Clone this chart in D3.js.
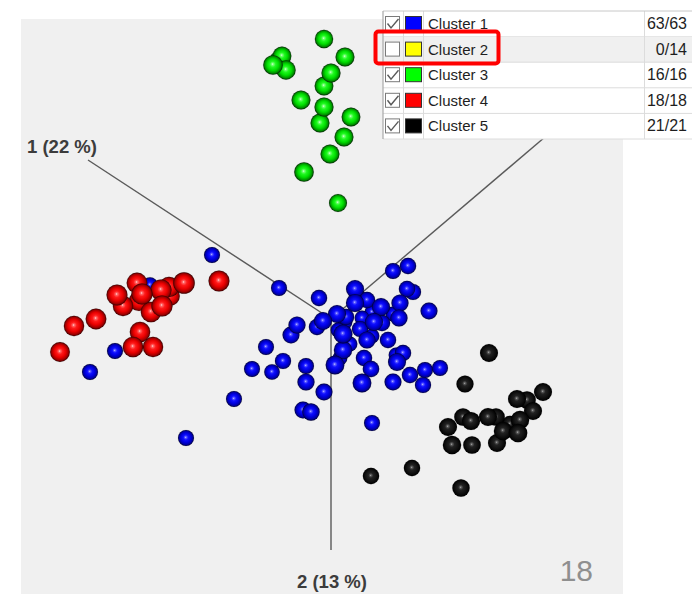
<!DOCTYPE html>
<html>
<head>
<meta charset="utf-8">
<script src="https://cdn.jsdelivr.net/npm/d3@7"></script>
<style>
  html, body { margin: 0; padding: 0; background: #ffffff; }
  svg { display: block; }
</style>
</head>
<body>
<svg id="chart" width="692" height="594"></svg>
<script>
// Cluster membership and counts
const clusterNames = ["Cluster 1", "Cluster 2", "Cluster 3", "Cluster 4", "Cluster 5"];
const shownCounts = [63, 0, 16, 18, 21];
const totalCounts = [63, 14, 16, 18, 21];
const clusterVisible = [true, false, true, true, true];

// Axis titles (component, explained variance %)
const axisTitles = ["1 (22 %)", "2 (13 %)"];
const axisVariance = [22, 13];
const frameNumber = "18";

// Projected scores: [x, y, depth]
const cluster1Points = [
  [-1.19, 0.64, 0.25], [-1.81, 0.34, 0.20], [-2.16, -0.32, 0.25], [-2.41, -0.53, 0.25],
  [-1.45, -1.19, 0.25], [-0.52, 0.31, 0.25], [-0.12, 0.21, 0.30], [0.24, 0.30, 0.50],
  [0.36, 0.19, 0.30], [0.24, 0.16, 0.52], [0.50, 0.12, 0.50], [0.62, 0.48, 0.25],
  [0.77, 0.53, 0.30], [0.76, 0.30, 0.30], [0.82, 0.27, 0.28], [0.69, 0.16, 0.40],
  [0.98, 0.08, 0.38], [0.68, 0.01, 0.40], [0.06, 0.05, 0.50], [0.15, 0.02, 0.30],
  [-0.08, -0.02, 0.50], [-0.14, -0.08, 0.30], [-0.34, -0.06, 0.40], [-0.40, -0.16, 0.38],
  [0.12, -0.15, 0.62], [0.29, -0.10, 0.28], [0.43, -0.03, 0.50], [0.51, -0.04, 0.30],
  [0.36, -0.21, 0.40], [0.57, -0.21, 0.30], [0.12, -0.31, 0.55], [0.04, -0.46, 0.60],
  [0.33, -0.39, 0.30], [0.40, -0.50, 0.32], [0.66, -0.43, 0.50], [0.72, -0.34, 0.30],
  [-0.25, -0.47, 0.25], [-0.48, -0.42, 0.28], [-0.65, -0.28, 0.25], [-0.79, -0.50, 0.25],
  [-0.59, -0.53, 0.20], [-0.25, -0.63, 0.40], [-0.07, -0.73, 0.38], [0.31, -0.64, 0.60],
  [0.62, -0.63, 0.38], [0.79, -0.56, 0.30], [0.94, -0.51, 0.25], [1.09, -0.49, 0.25],
  [0.92, -0.66, 0.28], [-0.97, -0.80, 0.25], [-0.28, -0.91, 0.38], [-0.20, -0.93, 0.42],
  [0.41, -1.04, 0.25],
  [0.27, 0.23, 0.10], [0.14, -0.03, 0.10], [0.41, -0.17, 0.10], [0.19, -0.25, 0.10],
  [0.65, -0.36, 0.10], [0.41, 0.07, 0.10], [0.07, -0.11, 0.10], [0.31, 0.01, 0.10],
  [0.62, 0.05, 0.10], [0.09, -0.39, 0.10]
];
const cluster2Points = [];
const cluster3Points = [
  [-0.07, 2.80, 0.55], [-0.49, 2.63, 0.60], [-0.58, 2.54, 0.70], [-0.45, 2.49, 0.68],
  [0.14, 2.62, 0.62], [0.00, 2.46, 0.64], [-0.07, 2.33, 0.60], [-0.30, 2.19, 0.62],
  [-0.07, 2.12, 0.64], [-0.11, 1.96, 0.62], [0.20, 2.02, 0.60], [0.13, 1.82, 0.62],
  [-0.01, 1.65, 0.62], [-0.27, 1.47, 0.70], [0.07, 1.16, 0.50], [-0.53, 2.59, 0.40]
];
const cluster4Points = [
  [-1.12, 0.38, 0.88], [-1.47, 0.36, 0.95], [-1.62, 0.32, 0.80], [-1.70, 0.29, 0.90],
  [-1.94, 0.36, 0.85], [-2.14, 0.24, 0.88], [-2.08, 0.13, 0.80], [-1.89, 0.25, 0.90],
  [-1.92, 0.18, 0.78], [-1.69, 0.13, 0.90], [-1.80, 0.07, 0.82], [-2.35, 0.00, 0.85],
  [-2.57, -0.07, 0.80], [-1.91, -0.13, 0.82], [-1.98, -0.28, 0.82], [-1.78, -0.28, 0.80],
  [-2.71, -0.33, 0.72], [-1.61, 0.23, 0.70]
];
const cluster5Points = [
  [1.58, -0.34, 0.50], [1.34, -0.65, 0.40], [2.12, -0.73, 0.50], [1.86, -0.80, 0.50],
  [1.96, -0.81, 0.45], [2.02, -0.92, 0.50], [1.32, -0.98, 0.45], [1.40, -1.02, 0.52],
  [1.57, -0.98, 0.50], [1.65, -0.98, 0.45], [1.89, -1.01, 0.55], [1.17, -1.08, 0.50],
  [1.72, -1.12, 0.55], [1.87, -1.14, 0.58], [1.21, -1.26, 0.55], [1.41, -1.26, 0.45],
  [1.66, -1.24, 0.50], [1.30, -1.69, 0.42], [0.40, -1.57, 0.30], [0.81, -1.49, 0.30],
  [1.79, -1.05, 0.30]
];
const clusterPoints = [cluster1Points, cluster2Points, cluster3Points, cluster4Points, cluster5Points];

// Axis directions in projected space (origin at 0,0)
const axisEnds = [[-2.43, 1.59], [0, -2.31], [2.14, 1.82]];

// Sphere shading palette per cluster: [highlight, light, base, mid, dark, rim]
const palette = [
  ["#e0e0ff", "#6a6aff", "#1010ff", "#0000e0", "#0000a0", "#00003c"],
  ["#ffffe0", "#ffff60", "#ffff00", "#e0e000", "#a0a000", "#3c3c00"],
  ["#f0fff0", "#80ff80", "#20f820", "#00dc00", "#009000", "#002c00"],
  ["#fff0f0", "#ff7070", "#ff1a1a", "#e80000", "#a00000", "#3c0000"],
  ["#c8c8c8", "#626262", "#222222", "#141414", "#070707", "#000000"]
];
const swatchColors = ["#0000ff", "#ffff00", "#00ff00", "#ff0000", "#000000"];

const svg = d3.select("#chart");

const x = d3.scaleLinear().domain([-3.1, 2.92]).range([21, 623]);
const y = d3.scaleLinear().domain([3.0, -2.75]).range([19, 594]);
const r = d3.scaleLinear().domain([0, 1]).range([7, 11]);

// Plot area background
svg.append("rect")
  .attr("x", x.range()[0]).attr("y", y.range()[0])
  .attr("width", x.range()[1] - x.range()[0])
  .attr("height", y.range()[1] - y.range()[0])
  .attr("fill", "#f0f0f0");

// Gradients for shaded spheres
const defs = svg.append("defs");
palette.forEach((p, i) => {
  const g = defs.append("radialGradient")
    .attr("id", "sphere" + i)
    .attr("cx", "50%").attr("cy", "50%").attr("r", "50%")
    .attr("fx", "48%").attr("fy", "45%");
  [[0, p[0]], [0.09, p[1]], [0.3, p[2]], [0.6, p[3]], [0.84, p[4]], [1, p[5]]]
    .forEach(([o, c]) => g.append("stop").attr("offset", o).attr("stop-color", c));
});

// Principal axes
const axes = svg.append("g");
axisEnds.forEach(e => {
  axes.append("line")
    .attr("x1", x(0)).attr("y1", y(0))
    .attr("x2", x(e[0])).attr("y2", y(e[1]))
    .attr("stroke", "#5a5a5a").attr("stroke-width", 1.4);
});

// Axis titles
svg.append("text")
  .attr("x", x(axisEnds[0][0]) - 26).attr("y", y(axisEnds[0][1]) - 7)
  .attr("text-anchor", "middle")
  .attr("font-family", "Liberation Sans, Arial, sans-serif")
  .attr("font-weight", "bold").attr("font-size", 18.5)
  .attr("fill", "#3c3c3c")
  .text(axisTitles[0]);
svg.append("text")
  .attr("x", x(axisEnds[1][0]) + 1).attr("y", y(axisEnds[1][1]) + 38)
  .attr("text-anchor", "middle")
  .attr("font-family", "Liberation Sans, Arial, sans-serif")
  .attr("font-weight", "bold").attr("font-size", 18.5)
  .attr("fill", "#3c3c3c")
  .text(axisTitles[1]);

// Spheres, back to front
const points = [];
clusterPoints.forEach((arr, ci) => {
  if (!clusterVisible[ci]) return;
  arr.forEach(p => points.push({ c: ci, x: p[0], y: p[1], z: p[2] }));
});
points.sort((a, b) => a.z - b.z);

svg.append("g").selectAll("circle")
  .data(points)
  .join("circle")
  .attr("cx", d => x(d.x))
  .attr("cy", d => y(d.y))
  .attr("r", d => r(d.z))
  .attr("fill", d => `url(#sphere${d.c})`)
  .attr("stroke", "rgba(0,0,0,0.18)")
  .attr("stroke-width", 0.5);

// Frame number
svg.append("text")
  .attr("x", 593).attr("y", 581)
  .attr("text-anchor", "end")
  .attr("font-family", "Liberation Sans, Arial, sans-serif")
  .attr("font-size", 30)
  .attr("fill", "#8f8f8f")
  .text(frameNumber);

// Cluster table
const lg = svg.append("g");
const tableTop = 11, rowH = 25.6, tableLeft = 383, tableRight = 692;
const colCheck = 403.5, colName = 423.5, colCount = 644.5;

lg.append("rect")
  .attr("x", tableLeft).attr("y", tableTop)
  .attr("width", tableRight - tableLeft).attr("height", rowH * clusterNames.length)
  .attr("fill", "#ffffff");

clusterNames.forEach((name, i) => {
  const ry = tableTop + i * rowH;
  const row = lg.append("g");
  if (i === 1) {
    row.append("rect").attr("x", tableLeft).attr("y", ry)
      .attr("width", tableRight - tableLeft).attr("height", rowH).attr("fill", "#f0f0f0");
  }
  // checkbox
  row.append("rect")
    .attr("x", 385.5).attr("y", ry + 5.5).attr("width", 14).attr("height", 14)
    .attr("fill", "#ffffff").attr("stroke", "#7a7a7a").attr("stroke-width", 1);
  if (clusterVisible[i]) {
    row.append("path")
      .attr("d", `M387.5,${ry + 12.5} L391,${ry + 17} L398.5,${ry + 8}`)
      .attr("fill", "none").attr("stroke", "#5a5a5a").attr("stroke-width", 1.4);
  }
  // colour swatch
  row.append("rect")
    .attr("x", 405.5).attr("y", ry + 5.5).attr("width", 16).attr("height", 14)
    .attr("fill", swatchColors[i]).attr("stroke", "#333333").attr("stroke-width", 1);
  row.append("text")
    .attr("x", 428).attr("y", ry + 18)
    .attr("font-family", "Liberation Sans, Arial, sans-serif")
    .attr("font-size", 15).attr("fill", "#1e1e1e")
    .text(name);
  row.append("text")
    .attr("x", 687).attr("y", ry + 18)
    .attr("text-anchor", "end")
    .attr("font-family", "Liberation Sans, Arial, sans-serif")
    .attr("font-size", 16).attr("fill", "#1e1e1e")
    .text(`${shownCounts[i]}/${totalCounts[i]}`);
  row.append("line")
    .attr("x1", tableLeft).attr("x2", tableRight)
    .attr("y1", ry + rowH).attr("y2", ry + rowH)
    .attr("stroke", "#dcdcdc").attr("stroke-width", 1);
});

[colCheck, colName, colCount].forEach(cx => {
  lg.append("line")
    .attr("x1", cx).attr("x2", cx)
    .attr("y1", tableTop).attr("y2", tableTop + rowH * clusterNames.length)
    .attr("stroke", "#dcdcdc").attr("stroke-width", 1);
});
lg.append("line")
  .attr("x1", tableLeft).attr("x2", tableRight).attr("y1", tableTop).attr("y2", tableTop)
  .attr("stroke", "#c8c8c8").attr("stroke-width", 1);
lg.append("line")
  .attr("x1", tableLeft).attr("x2", tableLeft)
  .attr("y1", tableTop).attr("y2", tableTop + rowH * clusterNames.length)
  .attr("stroke", "#a8a8a8").attr("stroke-width", 1.2);

// Highlight around the hidden cluster row
lg.append("rect")
  .attr("x", 375.5).attr("y", 31.5).attr("width", 123).attr("height", 32)
  .attr("rx", 3).attr("ry", 3)
  .attr("fill", "none").attr("stroke", "#ff0000").attr("stroke-width", 4);
</script>
</body>
</html>
